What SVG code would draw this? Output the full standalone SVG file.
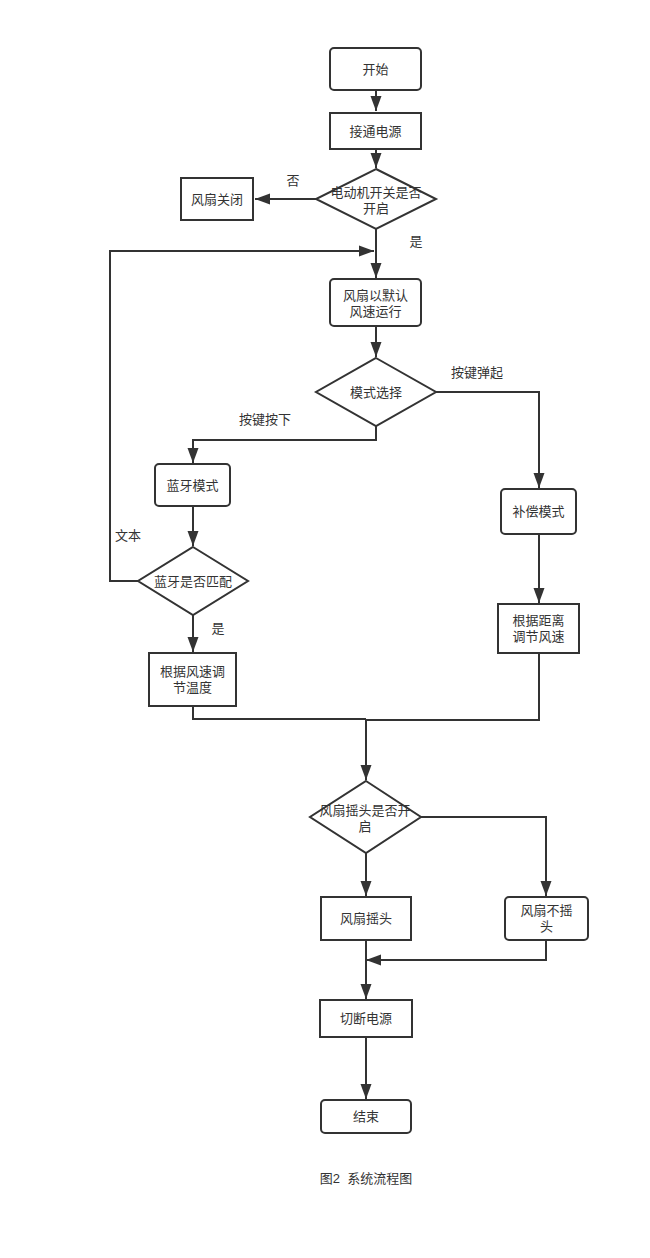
<svg xmlns="http://www.w3.org/2000/svg" width="650" height="1258" viewBox="0 0 650 1258">
<style>
.n{fill:#fff;stroke:#333;stroke-width:2}
.t{font-family:"Liberation Sans","Noto Sans CJK SC",sans-serif;font-size:13px;fill:#333;text-anchor:middle}
.l{font-family:"Liberation Sans","Noto Sans CJK SC",sans-serif;font-size:13px;fill:#333;text-anchor:middle}
.c{fill:none;stroke:#333;stroke-width:2}
</style>
<defs>
<marker id="a" markerUnits="userSpaceOnUse" markerWidth="15" markerHeight="12" refX="15" refY="6" orient="auto">
<path d="M0,0.5 L15,6 L0,11.5 z" fill="#333"/>
</marker>
</defs>
<rect width="650" height="1258" fill="#fff"/>
<g id="connectors">
<path class="c" d="M376,90 V111" marker-end="url(#a)"/>
<path class="c" d="M376,149 V168" marker-end="url(#a)"/>
<path class="c" d="M316,199 H255" marker-end="url(#a)"/>
<path class="c" d="M376,229 V278" marker-end="url(#a)"/>
<path class="c" d="M138,581 H110 V251 H374" marker-end="url(#a)"/>
<path class="c" d="M376,326 V357" marker-end="url(#a)"/>
<path class="c" d="M436,392 H539 V488" marker-end="url(#a)"/>
<path class="c" d="M376,426 V440 H193 V463" marker-end="url(#a)"/>
<path class="c" d="M193,506 V546" marker-end="url(#a)"/>
<path class="c" d="M193,615 V652" marker-end="url(#a)"/>
<path class="c" d="M539,534 V603" marker-end="url(#a)"/>
<path class="c" d="M193,706 V719 H366"/>
<path class="c" d="M539,653 V720 H366 V780" marker-end="url(#a)"/>
<path class="c" d="M421,817 H546 V896" marker-end="url(#a)"/>
<path class="c" d="M366,853 V896" marker-end="url(#a)"/>
<path class="c" d="M546,940 V960 H366" marker-end="url(#a)"/>
<path class="c" d="M366,940 V999" marker-end="url(#a)"/>
<path class="c" d="M366,1037 V1099" marker-end="url(#a)"/>
<text class="l" x="293" y="185">否</text>
<text class="l" x="416" y="246">是</text>
<text class="l" x="128" y="540">文本</text>
<text class="l" x="477" y="377">按键弹起</text>
<text class="l" x="265" y="424">按键按下</text>
<text class="l" x="218" y="633">是</text>
</g>
<g id="start"><rect class="n" x="330" y="48" width="91" height="42" rx="4"/><text class="t" x="375.5" y="74">开始</text></g>
<g id="power"><rect class="n" x="330" y="113" width="91" height="36"/><text class="t" x="375.5" y="136">接通电源</text></g>
<g id="motor"><polygon class="n" points="376,169 436,199 376,229 316,199"/><text class="t" x="376" y="197">电动机开关是否</text><text class="t" x="376" y="213">开启</text></g>
<g id="fanoff"><rect class="n" x="181" y="178" width="72" height="42"/><text class="t" x="217" y="204">风扇关闭</text></g>
<g id="default"><rect class="n" x="330" y="279" width="91" height="47" rx="4"/><text class="t" x="375.5" y="300">风扇以默认</text><text class="t" x="375.5" y="316">风速运行</text></g>
<g id="mode"><polygon class="n" points="376,358 436,392 376,426 316,392"/><text class="t" x="376" y="397">模式选择</text></g>
<g id="bt"><rect class="n" x="155" y="464" width="75" height="42" rx="4"/><text class="t" x="192.5" y="490">蓝牙模式</text></g>
<g id="btmatch"><polygon class="n" points="193,547 248,581 193,615 138,581"/><text class="t" x="193" y="586">蓝牙是否匹配</text></g>
<g id="temp"><rect class="n" x="149" y="653" width="87" height="53"/><text class="t" x="192.5" y="676">根据风速调</text><text class="t" x="192.5" y="692">节温度</text></g>
<g id="comp"><rect class="n" x="501" y="489" width="75" height="45" rx="4"/><text class="t" x="538.5" y="516">补偿模式</text></g>
<g id="dist"><rect class="n" x="498" y="604" width="81" height="49"/><text class="t" x="538.5" y="625">根据距离</text><text class="t" x="538.5" y="641">调节风速</text></g>
<g id="swingq"><polygon class="n" points="366,781 421,817 366,853 310,817"/><text class="t" x="365" y="815">风扇摇头是否开</text><text class="t" x="365" y="831">启</text></g>
<g id="swing"><rect class="n" x="321" y="897" width="90" height="43"/><text class="t" x="366" y="923">风扇摇头</text></g>
<g id="noswing"><rect class="n" x="505" y="897" width="83" height="43" rx="4"/><text class="t" x="546.5" y="915">风扇不摇</text><text class="t" x="546.5" y="931">头</text></g>
<g id="cut"><rect class="n" x="320" y="1000" width="92" height="37"/><text class="t" x="366" y="1023">切断电源</text></g>
<g id="end"><rect class="n" x="321" y="1100" width="90" height="33" rx="4"/><text class="t" x="366" y="1121">结束</text></g>
<text class="t" x="366" y="1183">图2&#160;&#160;系统流程图</text>
</svg>
